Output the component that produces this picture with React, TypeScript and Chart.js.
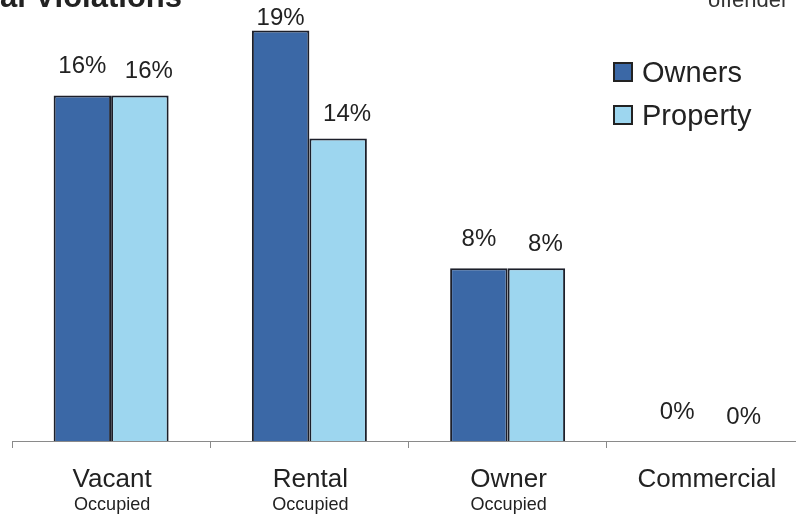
import React, { useEffect, useRef } from "react";
import { Chart, registerables } from "chart.js";

Chart.register(...registerables);

const categories = ["Vacant", "Rental", "Owner", "Commercial"];
const subLabels = ["Occupied", "Occupied", "Occupied", ""];
const seriesNames = ["Owners", "Property"];
const ownersValues = [16, 19, 8, 0];
const propertyValues = [16, 14, 8, 0];
const titleText = "al Violations";
const cornerText = "offender";

const COLORS = ["#3b68a6", "#9dd6ef"];
const LABEL_DX = [0, 9];
const LABEL_DY = [-29, -24];
const LABEL_MIN_Y = 18;
const FONT = "'Liberation Sans', Arial, sans-serif";

const overlayPlugin = {
  id: "overlay",
  afterDatasetsDraw(chart: any) {
    const ctx = chart.ctx;
    ctx.save();
    // value labels
    ctx.fillStyle = "#222";
    ctx.font = `24px ${FONT}`;
    ctx.textAlign = "center";
    ctx.textBaseline = "middle";
    chart.data.datasets.forEach((ds: any, di: number) => {
      const meta = chart.getDatasetMeta(di);
      meta.data.forEach((bar: any, i: number) => {
        const y = Math.max(bar.y + LABEL_DY[di], LABEL_MIN_Y);
        ctx.fillText(`${ds.data[i]}%`, bar.x + LABEL_DX[di], y);
      });
    });
    // category labels
    const xs = chart.scales.x;
    ctx.textBaseline = "alphabetic";
    categories.forEach((c, i) => {
      const x = xs.getPixelForValue(i) + 1;
      ctx.font = `26px ${FONT}`;
      ctx.fillText(c, x, 487);
      if (subLabels[i]) {
        ctx.font = `19px ${FONT}`;
        ctx.save();
        ctx.translate(x, 510);
        ctx.scale(0.95, 1);
        ctx.fillText(subLabels[i], 0, 0);
        ctx.restore();
      }
    });
    // legend
    seriesNames.forEach((name, i) => {
      const top = 63 + i * 43;
      ctx.fillStyle = COLORS[i];
      ctx.fillRect(614, top, 18, 18);
      ctx.strokeStyle = "#222";
      ctx.lineWidth = 2;
      ctx.strokeRect(614, top, 18, 18);
      ctx.fillStyle = "#222";
      ctx.font = `29px ${FONT}`;
      ctx.textAlign = "left";
      ctx.fillText(name, 642, top + 19);
    });
    // clipped title and corner text
    ctx.font = `bold 31px ${FONT}`;
    ctx.textAlign = "right";
    ctx.fillStyle = "#222";
    ctx.fillText(titleText, 182, 7);
    ctx.font = `22px ${FONT}`;
    ctx.textAlign = "left";
    ctx.fillStyle = "#333";
    ctx.fillText(cornerText, 708, 7);
    ctx.restore();
  },
};

export default function App() {
  const ref = useRef<HTMLCanvasElement>(null);
  useEffect(() => {
    if (!ref.current) return;
    const chart = new Chart(ref.current, {
      type: "bar",
      data: {
        labels: categories,
        datasets: [
          {
            label: seriesNames[0],
            data: ownersValues,
            backgroundColor: COLORS[0],
            borderColor: "#1c1f2a",
            borderWidth: 2,
            barPercentage: 1,
            categoryPercentage: 0.58,
          },
          {
            label: seriesNames[1],
            data: propertyValues,
            backgroundColor: COLORS[1],
            borderColor: "#1c1f2a",
            borderWidth: 2,
            barPercentage: 1,
            categoryPercentage: 0.58,
          },
        ],
      },
      options: {
        animation: false,
        responsive: false,
        maintainAspectRatio: false,
        layout: { padding: { left: 12, right: 5, top: 9, bottom: 67 } },
        plugins: { legend: { display: false }, tooltip: { enabled: false } },
        scales: {
          x: {
            offset: true,
            ticks: { display: false },
            grid: {
              offset: true,
              drawOnChartArea: false,
              drawTicks: true,
              tickLength: 7,
              color: "#8a8a8a",
            },
            border: { color: "#8a8a8a", width: 1 },
          },
          y: { display: false, min: 0, max: 20 },
        },
      },
      plugins: [overlayPlugin],
    });
    return () => chart.destroy();
  }, []);
  return (
    <div
      style={{
        position: "fixed",
        left: 0,
        top: 0,
        width: 796,
        height: 515,
        overflow: "hidden",
        background: "#fff",
      }}
    >
      <canvas ref={ref} width={810} height={515} style={{ width: 810, height: 515 }} />
    </div>
  );
}
